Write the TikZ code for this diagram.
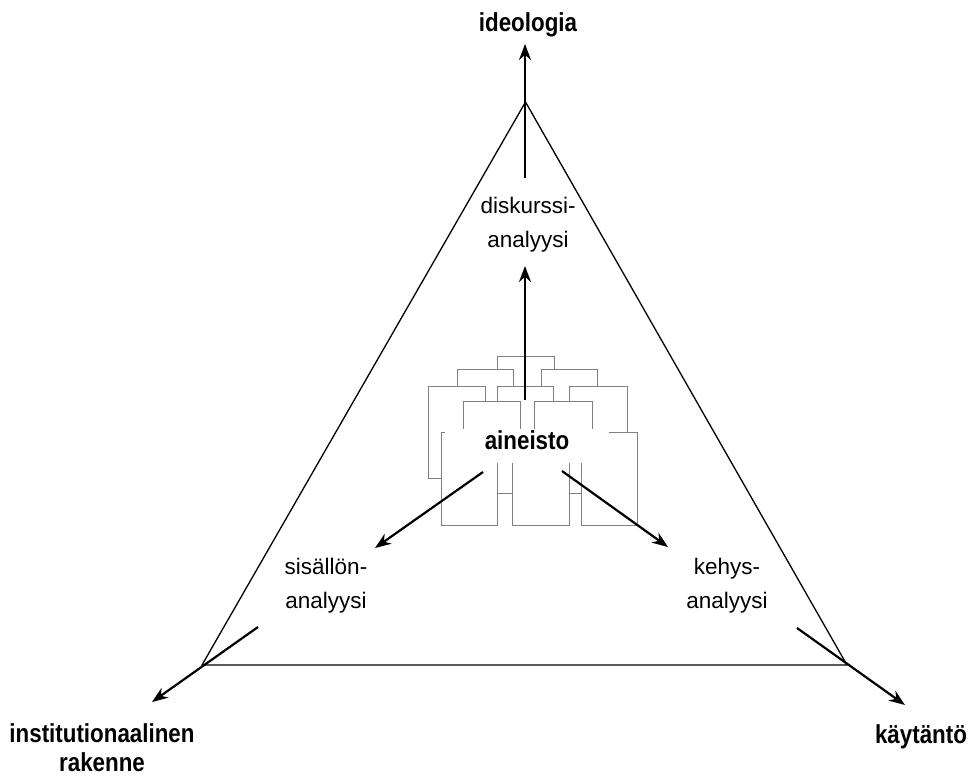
\documentclass[tikz,border=0pt]{standalone}
\usepackage{fontspec}
\setmainfont{Liberation Sans}
\newfontfamily\lblfont{Liberation Sans}[FakeStretch=0.86]
\usetikzlibrary{arrows.meta}
\tikzset{
  tri/.style={line width=1.3pt, line join=miter},
  arr/.style={line width=2.2pt, -{Stealth[length=16pt,width=12pt]}},
  pg/.style={draw=black!50, line width=0.9pt, fill=white},
  reg/.style={font=\fontsize{22.5}{34}\selectfont, align=center, inner sep=0pt},
  bld/.style={font=\lblfont\bfseries\fontsize{26}{29}\selectfont, align=center, inner sep=0pt}
}
\begin{document}
\begin{tikzpicture}[x=1pt,y=-1pt]
\useasboundingbox (0,0) rectangle (972,778);
% triangle
\coordinate (A) at (525.5,102);
\coordinate (B) at (202,665);
\coordinate (C) at (847,665);
\draw[tri] (A) -- (B) -- (C) -- cycle;
% stacked papers (back to front)
\draw[pg] (497,356) rectangle (554,400);
\draw[pg] (457,369) rectangle (513,420);
\draw[pg] (541,369) rectangle (597,420);
\draw[pg] (428,386) rectangle (485,478);
\draw[pg] (497,386) rectangle (553,493);
\draw[pg] (569,386) rectangle (627,493);
\draw[pg] (463,401) rectangle (520,450);
\draw[pg] (534,401) rectangle (592,450);
\draw[pg] (441,432) rectangle (497,525);
\draw[pg] (512,432) rectangle (569,525);
\draw[pg] (581,432) rectangle (637,525);
\fill[white] (445,429) rectangle (609,463);
\node[bld, anchor=base] (aineisto) at (527,449) {aineisto};
% labels
\node[bld, anchor=base] (ideologia) at (528,32) {ideologia};
\node[reg] (diskurssi) at (528,224.3) {diskurssi-\\analyysi};
\node[reg] (sisallon) at (326,585.3) {sisällön-\\analyysi};
\node[reg] (kehys) at (727,585.5) {kehys-\\analyysi};
\node[bld] (inst) at (102,748) {institutionaalinen\\rakenne};
\node[bld, anchor=base] (kaytanto) at (921,743) {käytäntö};
% arrow end points
\coordinate (s1) at (525,400);
\coordinate (t1) at (525,266);
\coordinate (s2) at (525,178);
\coordinate (t2) at (525,44);
\coordinate (s3) at (483,472);
\coordinate (t3) at (375,548);
\coordinate (s4) at (562,471);
\coordinate (t4) at (668,547);
\coordinate (s5) at (258,627);
\coordinate (t5) at (152,702);
\coordinate (s6) at (797,628);
\coordinate (t6) at (905,705);
\draw[arr] (s1) -- (t1);
\draw[arr] (s2) -- (t2);
\draw[arr] (s3) -- (t3);
\draw[arr] (s4) -- (t4);
\draw[arr] (s5) -- (t5);
\draw[arr] (s6) -- (t6);
\end{tikzpicture}
\end{document}
